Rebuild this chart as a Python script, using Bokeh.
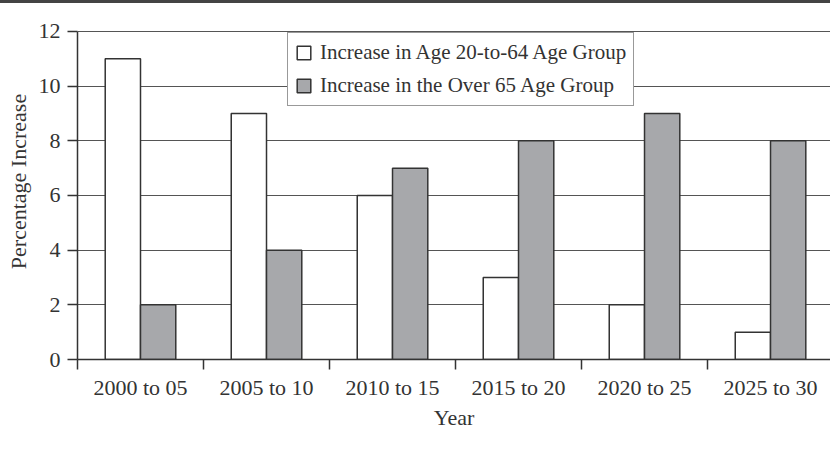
from bokeh.plotting import figure
from bokeh.models import (Range1d, FixedTicker, Legend, LegendItem, ColumnDataSource, Div)
from bokeh.layouts import column
from bokeh.transform import dodge
from bokeh.embed import file_html
from bokeh.resources import INLINE

categories = ["2000 to 05", "2005 to 10", "2010 to 15", "2015 to 20", "2020 to 25", "2025 to 30"]
age_20_to_64 = [11, 9, 6, 3, 2, 1]
over_65 = [2, 4, 7, 8, 9, 8]
y_ticks = [0, 2, 4, 6, 8, 10, 12]
series_labels = ["Increase in Age 20-to-64 Age Group", "Increase in the Over 65 Age Group"]

FONT = "Liberation Serif"
TXT = "#333333"
DARK = "#333333"
GRAY = "#a7a8ab"

idx = list(range(len(categories)))
src = ColumnDataSource(dict(x=idx, a=age_20_to_64, b=over_65))

p = figure(width=830, height=447, output_backend="svg", toolbar_location=None,
           x_range=Range1d(-0.5, 5.476), y_range=Range1d(0, 13.024),
           min_border_left=77, min_border_right=0, min_border_top=0, min_border_bottom=91)
p.outline_line_color = None
p.background_fill_color = "white"
p.border_fill_color = "white"

bw = 0.28
r1 = p.vbar(x=dodge("x", -bw / 2), top="a", width=bw, source=src,
            fill_color="white", line_color=DARK, line_width=1.5)
r2 = p.vbar(x=dodge("x", bw / 2), top="b", width=bw, source=src,
            fill_color=GRAY, line_color=DARK, line_width=1.5)

# x axis
xa = p.xaxis[0]
xa.ticker = FixedTicker(ticks=idx, minor_ticks=[i - 0.5 for i in range(len(categories) + 1)])
xa.major_label_overrides = {i: c for i, c in zip(idx, categories)}
xa.major_tick_out = 0
xa.major_tick_in = 0
xa.minor_tick_out = 10
xa.minor_tick_in = 0
xa.minor_tick_line_color = DARK
xa.minor_tick_line_width = 1.5
xa.axis_line_color = DARK
xa.axis_line_width = 1.5
xa.major_label_standoff = 5
xa.major_label_text_font = FONT
xa.major_label_text_font_size = "22px"
xa.major_label_text_color = TXT
xa.axis_label = "Year"
xa.axis_label_text_font = FONT
xa.axis_label_text_font_size = "22px"
xa.axis_label_text_font_style = "normal"
xa.axis_label_text_color = TXT
xa.axis_label_standoff = 2

# y axis
ya = p.yaxis[0]
ya.ticker = FixedTicker(ticks=y_ticks)
ya.bounds = (0, 12)
ya.major_tick_out = 10
ya.major_tick_in = 0
ya.minor_tick_out = 0
ya.minor_tick_in = 0
ya.major_tick_line_color = DARK
ya.major_tick_line_width = 1.5
ya.axis_line_color = DARK
ya.axis_line_width = 1.5
ya.major_label_standoff = 7
ya.major_label_text_font = FONT
ya.major_label_text_font_size = "22px"
ya.major_label_text_color = TXT
ya.axis_label = "Percentage Increase"
ya.axis_label_text_font = FONT
ya.axis_label_text_font_size = "22px"
ya.axis_label_text_font_style = "normal"
ya.axis_label_text_color = TXT
ya.axis_label_standoff = 5

p.xgrid.grid_line_color = None
p.ygrid.ticker = FixedTicker(ticks=y_ticks)
p.ygrid.grid_line_color = "#555555"
p.ygrid.grid_line_width = 1.2

legend = Legend(items=[LegendItem(label=series_labels[0], renderers=[r1]),
                       LegendItem(label=series_labels[1], renderers=[r2])],
                location=(210, 253))
legend.label_text_font = FONT
legend.label_text_font_size = "21px"
legend.label_text_color = TXT
legend.glyph_width = 17
legend.glyph_height = 17
legend.label_standoff = 8
legend.label_height = 22
legend.padding = 7
legend.spacing = 8
legend.margin = 0
legend.border_line_color = DARK
legend.border_line_width = 1.5
legend.background_fill_color = "white"
legend.background_fill_alpha = 1.0
p.add_layout(legend)

rule = Div(text="", width=830, height=3, margin=0,
           styles={"background-color": "#444444"})
layout = column(rule, p, spacing=0)

open("out.html", "w").write(file_html(layout, INLINE))
